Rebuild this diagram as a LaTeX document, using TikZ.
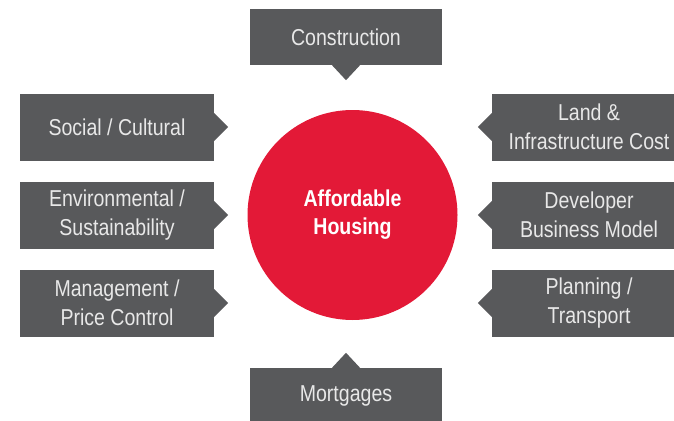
\documentclass[tikz,border=0pt]{standalone}
\usepackage{fontspec}
\setmainfont[FakeStretch=0.85]{Liberation Sans}
\usetikzlibrary{positioning}
\definecolor{boxgray}{HTML}{58595B}
\definecolor{hubred}{HTML}{E31937}
\definecolor{boxtext}{HTML}{E8E8E8}

\begin{document}
\begin{tikzpicture}[x=1pt,y=-1pt,on grid,
    factor/.style={rectangle,fill=boxgray,text=boxtext,align=center,
      minimum width=194pt,minimum height=67pt,inner sep=0pt,
      font=\fontsize{23}{29}\selectfont},
    capbox/.style={factor,minimum width=192pt,minimum height=56pt},
    hub/.style={circle,fill=hubred,text=white,align=center,
      minimum size=210pt,inner sep=0pt,
      font=\bfseries\fontsize{23}{28}\selectfont}]
  \useasboundingbox (0,0) rectangle (674,420);
  \node[hub] (aff) at (352.5,215) {Affordable\\Housing};

  \node[factor] (env) [left=235.5pt of aff] {Environmental /\\Sustainability};
  \node[factor] (soc) [above=88pt of env] {Social / Cultural};
  \node[factor] (mgmt) [below=88pt of env] {Management /\\Price Control};

  \node[factor] (dev) [right=236.5pt of aff] {Developer\\Business Model};
  \node[factor] (land) [above=88pt of dev] {Land \&\\Infrastructure Cost};
  \node[factor] (plan) [below=88pt of dev] {Planning /\\Transport};

  \node[capbox] (cons) [above=178pt of aff, xshift=-6.5pt] {Construction};
  \node[capbox] (mort) [below=181pt of aff, xshift=-6.5pt] {Mortgages};

  % pointers towards the hub
  \foreach \n in {soc,env,mgmt}
    \fill[boxgray] ([yshift=14pt]\n.east) -- ([xshift=14pt]\n.east)
      -- ([yshift=-14pt]\n.east) -- cycle;
  \foreach \n in {land,dev,plan}
    \fill[boxgray] ([yshift=14pt]\n.west) -- ([xshift=-14pt]\n.west)
      -- ([yshift=-14pt]\n.west) -- cycle;
  \fill[boxgray] ([xshift=-14pt]cons.south) -- ([yshift=-15pt]cons.south)
    -- ([xshift=14pt]cons.south) -- cycle;
  \fill[boxgray] ([xshift=-14pt]mort.north) -- ([yshift=15pt]mort.north)
    -- ([xshift=14pt]mort.north) -- cycle;
\end{tikzpicture}
\end{document}
